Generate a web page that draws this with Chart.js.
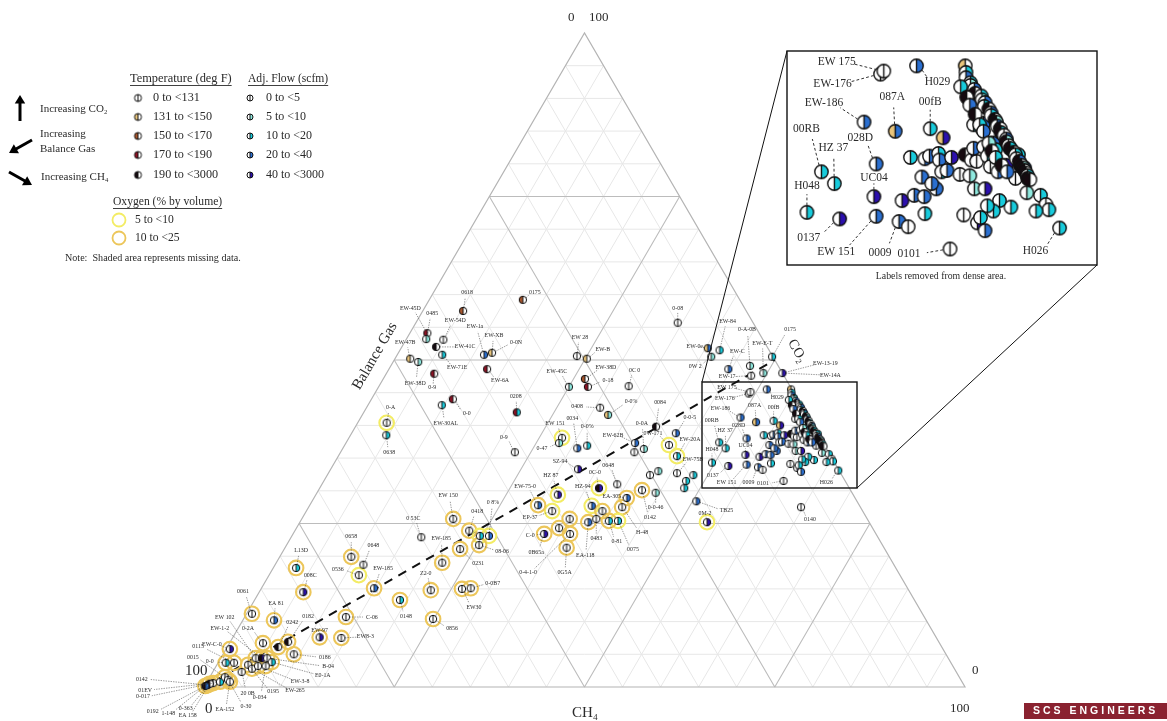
<!DOCTYPE html>
<html><head><meta charset="utf-8">
<style>html,body{margin:0;padding:0;background:#fff;overflow:hidden}canvas{display:block;filter:blur(0.35px)}</style>
<script src="https://cdn.jsdelivr.net/npm/chart.js@4"></script>
</head><body><canvas id="c" width="1167" height="721"></canvas>
<script>
// ---------- data (percent by volume) ----------
const gridTicks=[5,10,15,20,25,30,35,40,45,50,55,60,65,70,75,80,85,90,95];
const majorTicks=[25,50,75];
const ratioLineCh4=[0,50];
const ratioLineCo2=[0,50];
const tempLegend=['0 to <131','131 to <150','150 to <170','170 to <190','190 to <3000'];
const flowLegend=['0 to <5','5 to <10','10 to <20','20 to <40','40 to <3000'];
const oxygenLegend=['5 to <10','10 to <25'];
const ch4=[5.3,12.3,2.3,2.6,4.9,4.5,5.9,2.0,3.3,6.3,
11.4,12.3,12.9,10.7,9.7,20.1,3.8,4.7,22.9,23.7,
25.2,26.5,27.5,25.0,32.8,34.4,30.7,32.3,28.0,28.0,
30.8,31.9,39.5,42.6,38.0,38.6,39.6,42.6,44.5,32.5,
43.2,42.4,45.8,48.1,47.6,47.9,50.5,44.5,42.5,38.8,
36.7,41.1,41.2,37.1,38.9,41.7,40.5,37.9,38.7,53.5,
64.7,35.2,34.5,36.4,33.0,37.0,32.3,30.0,31.8,19.9,
17.1,22.9,24.7,25.9,25.3,23.1,21.8,9.4,11.6,11.8,
3.0,5.8,14.8,19.1,22.4,26.4,27.5,24.9,13.3,11.4,
14.3,0.7,4.1,7.6,6.7,4.4,9.3,0.5,1.0,2.1,
4.6,5.4,6.1,7.0,4.1,4.9,3.8,5.5,6.5,0.35,
0.9,1.7,2.0,2.6,3.0,0.5,0.1,42.0,40.3,41.4,
44.6,47.2,48.1,49.5,49.4,52.0,
49.15,49.25,51.2,49.9,52.3,54.5,55.7,49.0,50.3,49.6,
52.0,53.4,54.3,52.3,55.4,56.0,56.8,60.4,66.8,
57.4,54.3,56.0,56.7,55.8,57.2,56.7,55.3,55.5,56.0,
56.3,57.0,56.9,57.2,57.8,58.4,58.8,58.2,58.9,59.7,
60.4,58.1,58.7,59.2,59.6,59.3,59.9,60.6,60.9,62.0,
63.3,64.3,65.0,65.4,64.6,62.8,61.8,61.8,61.2,60.0,
61.2,61.2,62.0,57.2,57.9,57.8,60.5,61.3,61.8,62.2,
54.4,54.7,54.9,55.4,55.5,55.9,56.1,56.6,56.8,57.1,
57.2,57.6,57.9,58.0,58.4,58.6,58.8,59.1,59.3,59.6,
59.9,60.0,60.3,60.5,60.9,61.1,61.3,61.6,61.9,62.1,
62.3,62.5,62.7,62.8,63.0,
54.9,55.7,56.2,56.9,57.6,58.1,58.9,59.4,59.9,60.6,61.2];
const co2=[57.5,59.2,54.1,53.2,53.1,52.0,50.8,50.2,49.7,47.9,
50.8,51.1,48.6,44.0,43.1,42.0,40.4,38.5,35.9,50.6,
50.2,47.1,45.9,45.9,46.0,55.7,42.7,41.6,38.1,37.3,
36.5,36.9,39.8,38.8,37.3,35.9,36.4,37.0,35.3,33.3,
33.0,32.4,32.7,32.4,31.5,30.4,28.4,29.7,30.1,31.0,
30.4,28.9,27.5,27.7,26.9,25.4,25.4,25.2,25.7,25.2,
27.5,25.7,24.3,23.4,23.4,21.3,26.9,27.8,29.4,25.7,
22.9,23.9,23.1,23.1,21.7,21.1,19.0,19.9,18.7,17.1,
18.2,14.5,15.1,13.3,14.8,15.0,15.1,10.4,10.7,7.6,
7.5,11.2,10.2,6.9,6.1,6.7,5.0,5.8,3.7,3.7,
4.4,4.4,4.4,3.8,3.4,2.8,2.3,3.2,3.2,0.3,
0.6,0.8,1.5,1.1,0.8,0.5,0.15,51.5,51.8,50.5,
48.6,49.1,47.6,48.0,50.5,48.0,
44.87,45.1,45.5,41.2,40.5,40.7,40.0,37.4,36.5,34.3,
33.8,35.5,34.0,38.0,35.2,33.6,33.2,31.5,33.1,
34.2,38.5,35.6,35.5,37.0,36.1,36.5,38.4,38.6,38.8,
38.3,38.5,37.4,37.5,38.7,38.3,38.2,37.2,37.1,36.1,
36.1,39.2,39.3,39.6,39.1,38.6,37.8,37.4,37.9,36.9,
35.8,35.6,34.9,34.5,34.4,34.7,35.2,34.4,34.8,34.1,
33.5,33.9,32.9,41.0,40.7,41.1,39.2,38.7,37.9,37.7,
45.5,45.0,44.6,44.2,44.0,43.7,43.4,43.2,42.9,42.7,
42.4,42.2,41.9,41.7,41.4,41.2,40.9,40.7,40.4,40.2,
39.9,39.7,39.4,39.2,38.9,38.7,38.4,38.2,37.9,37.7,
37.5,37.3,37.1,36.9,36.8,
43.9,43.1,42.5,41.8,41.0,40.5,39.6,39.0,38.5,37.9,37.4];
const tempClass=[2,2,3,0,0,4,0,1,0,3, 0,1,3,3,0,3,0,0,0,0, 1,2,3,0,0,0,0,1,0,0, 0,0,4,0,0,0,0,0,0,0,
0,0,0,0,0,0,0,0,0,0, 4,0,0,0,0,0,0,0,0,0, 0,0,0,0,0,0,0,0,0,0, 0,0,0,0,0,0,0,0,0,0, 0,0,0,0,0,0,0,0,0,0,
0,0,0,4,4,0,0,0,0,0, 0,4,0,0,0,0,0,0,0,4, 4,0,0,0,0,4,4,0,1,0, 0,0,0,0,0,0,
0,0,0,0,1,0,1,0,0,0, 0,0,0,0,0,0,0,0,0,
0,0,0,0,0,0,0,0,0,0, 0,0,0,0,4,0,0,0,0,0, 0,0,0,0,0,0,0,0,0,0, 0,0,0,0,0,0,0,0,0,0, 0,0,0,0,0,0,1,0,4,0,
1,0,0,0,0,0,4,0,0,0, 0,4,0,0,4,4,0,4,4,0, 0,4,0,4,4,0,0,4,4,4, 4,4,0,4,4, 0,4,0,4,0,0,0,4,0,4,0];
const flowClass=[0,0,0,1,0,0,2,0,1,0, 3,0,0,0,2,2,0,2,0,0, 0,0,0,1,0,0,0,1,0,1, 3,2,0,3,3,0,1,0,2,4,
1,0,0,2,2,2,3,1,0,0, 4,3,0,3,0,2,2,3,0,4, 0,0,0,0,4,0,0,3,4,0, 0,0,2,3,0,0,0,0,0,0, 2,4,3,2,0,0,0,0,0,4,
0,0,3,0,0,0,0,4,2,0, 0,4,0,2,0,0,0,0,0,4, 0,2,0,0,0,0,3,2,3,1, 3,1,0,1,2,4,
0,0,3,3,3,2,4,2,2,2, 4,4,3,3,4,3,0,0,2,
2,2,3,3,3,3,3,3,3,2, 3,4,2,3,0,4,0,0,1,1, 4,3,2,3,2,2,0,3,4,0, 1,2,0,2,2,2,2,2,2,0, 4,2,3,2,3,3,0,2,2,3,
0,2,3,2,1,3,0,2,1,3, 2,0,3,2,0,1,3,0,2,0, 3,1,0,2,0,2,0,3,0,1, 0,0,2,0,0, 2,0,3,0,2,3,1,0,2,0,3];
const o2Class=[0,0,0,0,0,0,0,0,0,0, 0,0,0,0,0,0,1,0,0,0, 0,0,0,0,0,0,0,0,1,0, 0,0,0,0,0,0,0,1,1,0,
0,0,0,0,0,0,0,0,2,0, 1,2,2,1,2,1,2,2,0,1, 0,2,2,2,2,2,1,2,1,2, 0,2,1,1,2,2,2,2,0,1, 2,2,2,2,2,2,2,2,2,2,
2,2,2,2,2,2,2,2,2,2, 2,2,2,2,2,2,0,2,2,2, 2,2,2,2,2,2,2,0,0,0, 0,0,0,0,0,0];
const wellNames=['0618','0175','EW-45D','0485','EW-54D','EW-41C','EW-71E','EW-47B','EW-38D','0-9',
'EW-1a','EW-XB','EW-6A','0-0','EW-30AL','0208','0-A','0638','0-9','EW 28',
'EW-B','EW-38D','0-18','EW-45C','0C 0','0-08','0408','0-0%','EW 151','0-47',
'0034','0-0%','0084','0-0-5','EW-62B','','0-0A','0W-171','EW-20A','SZ-94',
'','','EW-75B','','','','TB25','0-0-46','0142','0648',
'0C-0','EA-305','H-48','HZ-94','','0075','0-81','EA-118','0483','0M-2',
'0140','','','0-4-1-0','C-0','0G5A','EP-37','EW-75-0','HZ 87','EW 150',
'0 53C','0418','','0 8%','08-06','0231','EW-185','0658','0648','0536',
'L13D','008C','EW-185','0148','Z2-0','EW30','0-0B7','0856','C-06','EW-97',
'EW8-3','0061','EA 81','0182','0242','0-2A','0186','EW-C-0','0-0','0115',
'EW 102','EW-1-2','B-04','E0-1A','0195','EW-265','20 0B','EW-3-8','0-034','0142',
'01EV','0-017','0015','0-30','EA-152','0192','1-148','EW-84','EW-0e','0W 2',
'EW-C','0-A-0B','EW-17-','EW-E-T','0175','EW-13-19',
'EW-176','EW 175','H029','EW-186','087A','00fB','','00RB','HZ 37','H048',
'0137','UC04','EW 151','028D','','0009','','0101','H026'];
const extraLabelPoint=[64,115,115,125,11];
const extraLabelText=['0B65a','0-363','EA 158','EW-14A','0-0N'];
// ---------- layout ----------
const labelDx=[4,12,-17,6,12,29,15,-5,-3,-2, -9,2,13,14,4,-1,4,3,-11,3, 16,21,20,-12,6,0,-23,23,-7,-17,
-5,0,4,14,-22,0,-2,-16,13,-18, 0,0,16,0,0,0,30,0,8,-9, -4,-15,20,-9,0,15,8,-3,0,-2,
9,0,0,-42,-14,-2,-22,-13,-7,-5, -8,8,0,4,23,18,-1,0,10,-21, 5,7,9,6,-5,12,22,19,26,0,
24,-9,2,20,14,-15,31,-18,-16,-36, -31,-42,61,51,25,43,6,42,-6,-66, -68,-77,-32,18,-5,-57,-37,8,-13,-16,
9,-3,-23,-1,18,43, -24,-23.5,10.5,-20,-1.5,0,0,-7.5,-.5,0, -15.5,0,-20,-8,0,-9.5,0,-20.5,-12];
const labelDy=[-18,-7,-25,-26,-19,0,13,-16,21,14, -28,-17,11,14,18,-16,-15,17,-15,-19, -9,-12,-6,-15,-16,-14,-1,-13,-14,5,
-30,-19,-24,-16,-8,0,-25,-12,-17,-8, 0,0,-14,0,0,0,9,15,27,-19, -16,-2,25,-19,0,29,21,33,20,-9,
12,0,0,38,1,25,6,-19,-19,-23, -19,-19,0,-33,6,14,-24,-20,-19,-6, -18,-17,-20,16,-17,19,-5,9,0,-7,
-1,-22,-17,-25,-25,-15,3,-5,-1,-16, -41,-30,8,13,27,22,21,15,31,-6, 7,15,-20,27,28,28,27,-29,-2,10,
-18,-36,1,-30,-27,-10, 5,-4.5,8,-9.5,-17,-13.5,0,-21.5,-18,-13, 9.5,-9.5,18,-13,0,15.5,0,2.5,11.5];
const extraLabelDx=[-8,-24,-22,48,24];
const extraLabelDy=[18,25,32,2,-10];
const px=7.61, py=6.54, originX=204, originY=687, W=1167, H=721; // main triangle placement
const zoomFactor=2, frame=[702,382,857,488], insetFrame=[787,51,1097,265];
const tempColors=['#ffffff','#e9c57c','#a8562c','#8e1224','#160a10'];
const flowColors=['#ffffff','#8fe9df','#18cbdc','#2a6fd0','#2c10ae'];
const o2Colors=['','#f3ec64','#ecc65a'];
const insetFirst=126;
// ---------- helpers ----------
const tx=(c,co)=>c+co/2;
const pts=(idx)=>idx.map(i=>({x:tx(ch4[i],co2[i]),y:co2[i]}));
const allIdx=ch4.map((_,i)=>i);
const ringIdx=allIdx.filter(i=>o2Class[i]>0);
function marker(t,f,r,lw){
  const c=document.createElement('canvas'),s=Math.ceil(2*r+2*lw+2);c.width=c.height=s;
  const g=c.getContext('2d'),m=s/2;
  g.fillStyle=tempColors[t];g.beginPath();g.arc(m,m,r,Math.PI/2,Math.PI*1.5);g.fill();
  g.fillStyle=flowColors[f];g.beginPath();g.arc(m,m,r,-Math.PI/2,Math.PI/2);g.fill();
  g.strokeStyle='#111';g.lineWidth=lw;g.beginPath();g.arc(m,m,r,0,Math.PI*2);g.moveTo(m,m-r);g.lineTo(m,m+r);g.stroke();
  return c;
}
const markerCache={};
const getMarker=(t,f,r,lw)=>{const k=[t,f,r,lw].join();return markerCache[k]||(markerCache[k]=marker(t,f,r,lw));};
function gridData(ticks){
  const d=[];
  ticks.forEach(v=>{
    d.push({x:v/2,y:v},{x:100-v/2,y:v},{x:null,y:null});      // CO2 = v
    d.push({x:v,y:0},{x:v+(100-v)/2,y:100-v},{x:null,y:null}); // CH4 = v
    d.push({x:v,y:0},{x:v/2,y:v},{x:null,y:null});             // balance = 100-v
  });
  return d;
}
const minor=gridTicks.filter(v=>!majorTicks.includes(v));
const a2=insetFrame[0]-zoomFactor*(frame[0]-originX);
const x2min=(0-a2)/(zoomFactor*px), x2max=(W-a2)/(zoomFactor*px);
const b2=insetFrame[1]+zoomFactor*(originY-frame[1]);
const y2max=b2/(zoomFactor*py), y2min=(b2-H)/(zoomFactor*py);

function drawLabel(ctx,x,y,name,dx,dy,k,font){
  const lx=x+dx*k, ly=y+dy*k, d=Math.hypot(dx,dy)*k; if(!d) return;
  const r=3.5*k, ux=(lx-x)/d, uy=(ly-y)/d, gap=Math.min(9*k,d*0.5);
  ctx.save();ctx.strokeStyle='#333';ctx.lineWidth=0.5*k;ctx.setLineDash([1.4*k,1.1*k]);
  ctx.beginPath();ctx.moveTo(x+ux*r,y+uy*r);ctx.lineTo(lx-ux*gap,ly-uy*gap*0.6);ctx.stroke();ctx.restore();
  ctx.save();ctx.fillStyle='#2a2a2a';ctx.font=font;ctx.textAlign='center';ctx.textBaseline='middle';ctx.fillText(name,lx,ly);ctx.restore();
}
const serif='"Liberation Serif","DejaVu Serif",serif';
function text(ctx,s,x,y,size,opts={}){
  ctx.save();ctx.fillStyle=opts.color||'#2a2a2a';ctx.font=(opts.weight||'')+' '+size+'px '+serif;
  ctx.textAlign=opts.align||'left';ctx.textBaseline='middle';
  if(opts.rot!==undefined){ctx.translate(x,y);ctx.rotate(opts.rot);ctx.fillText(s,0,0);}
  else{ctx.fillText(s,x,y);
    if(opts.under){const w=ctx.measureText(s).width;ctx.strokeStyle=ctx.fillStyle;ctx.lineWidth=0.9;ctx.beginPath();ctx.moveTo(x,y+6.5);ctx.lineTo(x+w,y+6.5);ctx.stroke();}}
  ctx.restore();
}
function arrow(ctx,x0,y0,x1,y1){
  const a=Math.atan2(y1-y0,x1-x0),h=10;ctx.save();ctx.strokeStyle='#000';ctx.fillStyle='#000';ctx.lineWidth=3;
  ctx.beginPath();ctx.moveTo(x0,y0);ctx.lineTo(x1-Math.cos(a)*h*.7,y1-Math.sin(a)*h*.7);ctx.stroke();
  ctx.beginPath();ctx.moveTo(x1,y1);ctx.lineTo(x1-h*Math.cos(a-.55),y1-h*Math.sin(a-.55));ctx.lineTo(x1-h*Math.cos(a+.55),y1-h*Math.sin(a+.55));ctx.fill();ctx.restore();
}
const decor={
  id:'decor',
  beforeDatasetDraw(chart,args){
    const ds=chart.data.datasets[args.index],ctx=chart.ctx;
    if(ds.role==='inset'){
      ctx.save();ctx.strokeStyle='#111';ctx.lineWidth=1;
      ctx.beginPath();ctx.moveTo(frame[0],frame[1]);ctx.lineTo(insetFrame[0],insetFrame[1]);
      ctx.moveTo(frame[2],frame[3]);ctx.lineTo(insetFrame[2],insetFrame[3]);ctx.stroke();
      ctx.fillStyle='#fff';ctx.fillRect(insetFrame[0],insetFrame[1],insetFrame[2]-insetFrame[0],insetFrame[3]-insetFrame[1]);
      ctx.lineWidth=1.4;ctx.strokeRect(insetFrame[0],insetFrame[1],insetFrame[2]-insetFrame[0],insetFrame[3]-insetFrame[1]);
      ctx.strokeRect(frame[0],frame[1],frame[2]-frame[0],frame[3]-frame[1]);
      ctx.restore();
    }
  },
  afterDatasetDraw(chart,args){
    const ds=chart.data.datasets[args.index],ctx=chart.ctx;
    if(ds.role!=='main'&&ds.role!=='inset') return;
    const meta=chart.getDatasetMeta(args.index);
    const k=ds.role==='inset'?2:1;
    const font=(ds.role==='inset'?11.5:5.9)+'px '+serif;
    const first=ds.role==='inset'?insetFirst:0;
    for(let i=first;i<wellNames.length;i++){
      const el=meta.data[i-first];
      if(wellNames[i]) drawLabel(ctx,el.x,el.y,wellNames[i],labelDx[i],labelDy[i],k,font);
    }
    if(ds.role==='main') extraLabelPoint.forEach((p,j)=>drawLabel(ctx,meta.data[p].x,meta.data[p].y,extraLabelText[j],extraLabelDx[j],extraLabelDy[j],1,font));
  },
  afterDraw(chart){
    const ctx=chart.ctx;
    text(ctx,'0',568,18,13);text(ctx,'100',589,18,13);
    text(ctx,'100',185,671,15);text(ctx,'0',205,709,15);
    text(ctx,'0',972,671,13);text(ctx,'100',950,709,13);
    text(ctx,'Balance Gas',375,356,15,{rot:-Math.PI/3,align:'center'});
    text(ctx,'CH\u2084',585,713,15,{align:'center'});
    text(ctx,'CO\u2082',797,351,14,{rot:Math.PI/3,align:'center'});
    text(ctx,'Temperature (deg F)',130,79,12.4,{under:1});
    text(ctx,'Adj. Flow (scfm)',248,79,11.6,{under:1});
    const rowY=[98,117,136,155,175];
    tempLegend.forEach((s,i)=>{const m=getMarker(i,0,3.5,1);ctx.drawImage(m,138-m.width/2,rowY[i]-m.height/2);text(ctx,s,153,rowY[i],12.2);});
    flowLegend.forEach((s,i)=>{const m=getMarker(0,i,3,1);ctx.drawImage(m,250-m.width/2,rowY[i]-m.height/2);text(ctx,s,266,rowY[i],12);});
    arrow(ctx,20,121,20,95);text(ctx,'Increasing CO\u2082',40,109,11);
    arrow(ctx,32,140,9,153);text(ctx,'Increasing',40,134,11);text(ctx,'Balance Gas',40,149,11);
    arrow(ctx,9,172,32,185);text(ctx,'Increasing CH\u2084',41,177,11);
    text(ctx,'Oxygen (% by volume)',113,202,11.6,{under:1});
    oxygenLegend.forEach((s,i)=>{const y=[220,238][i];ctx.save();ctx.strokeStyle=o2Colors[i+1];ctx.lineWidth=1.8;ctx.beginPath();ctx.arc(119,y,6.5,0,Math.PI*2);ctx.stroke();ctx.restore();text(ctx,s,135,y,11.6);});
    text(ctx,'Note:  Shaded area represents missing data.',65,258,10.1);
    text(ctx,'Labels removed from dense area.',941,276,9.8,{align:'center'});
    ctx.save();ctx.fillStyle='#8a2230';ctx.fillRect(1024,703,143,16);
    ctx.fillStyle='#fff';ctx.font='bold 10.5px "Liberation Sans",sans-serif';ctx.textBaseline='middle';ctx.textAlign='left';
    ctx.letterSpacing='3px';ctx.fillText('SCS ENGINEERS',1033,711.5);ctx.restore();
  }
};
const base={showLine:false,xAxisID:'x',yAxisID:'y',clip:false};
new Chart(document.getElementById('c'),{
  type:'scatter',
  data:{datasets:[
    {...base,data:gridData(minor),showLine:true,spanGaps:false,borderColor:'#e7e7e7',borderWidth:1,pointRadius:0,order:20},
    {...base,data:gridData(majorTicks),showLine:true,spanGaps:false,borderColor:'#bcbcbc',borderWidth:1.1,pointRadius:0,order:19},
    {...base,data:[{x:0,y:0},{x:100,y:0},{x:50,y:100},{x:0,y:0}],showLine:true,borderColor:'#b4b4b4',borderWidth:1.2,pointRadius:0,order:18},
    {...base,data:ratioLineCh4.map((c,i)=>({x:tx(c,ratioLineCo2[i]),y:ratioLineCo2[i]})),showLine:true,borderColor:'#111',borderWidth:2,borderDash:[9,7],pointRadius:0,order:17},
    {...base,data:pts(ringIdx),pointStyle:'circle',pointRadius:7.3,pointBorderWidth:2.1,pointBackgroundColor:'rgba(255,255,255,0)',pointBorderColor:ringIdx.map(i=>o2Colors[o2Class[i]]),order:16},
    {...base,role:'main',data:pts(allIdx),pointStyle:c=>getMarker(tempClass[c.dataIndex],flowClass[c.dataIndex],3.7,1),pointRadius:4,order:15},
    {...base,role:'inset',xAxisID:'x2',yAxisID:'y2',data:pts(allIdx.filter(i=>i>=insetFirst)),pointStyle:c=>getMarker(tempClass[c.dataIndex+insetFirst],flowClass[c.dataIndex+insetFirst],6.7,1.4),pointRadius:7,order:14}
  ]},
  options:{
    responsive:false,animation:false,devicePixelRatio:1,
    layout:{padding:0,autoPadding:false},
    plugins:{legend:{display:false},tooltip:{enabled:false}},
    scales:{
      x:{type:'linear',display:false,min:(0-originX)/px,max:(W-originX)/px},
      y:{type:'linear',display:false,min:(originY-H)/py,max:originY/py},
      x2:{type:'linear',display:false,min:x2min,max:x2max},
      y2:{type:'linear',display:false,min:y2min,max:y2max}
    }
  },
  plugins:[decor]
});
</script></body></html>
